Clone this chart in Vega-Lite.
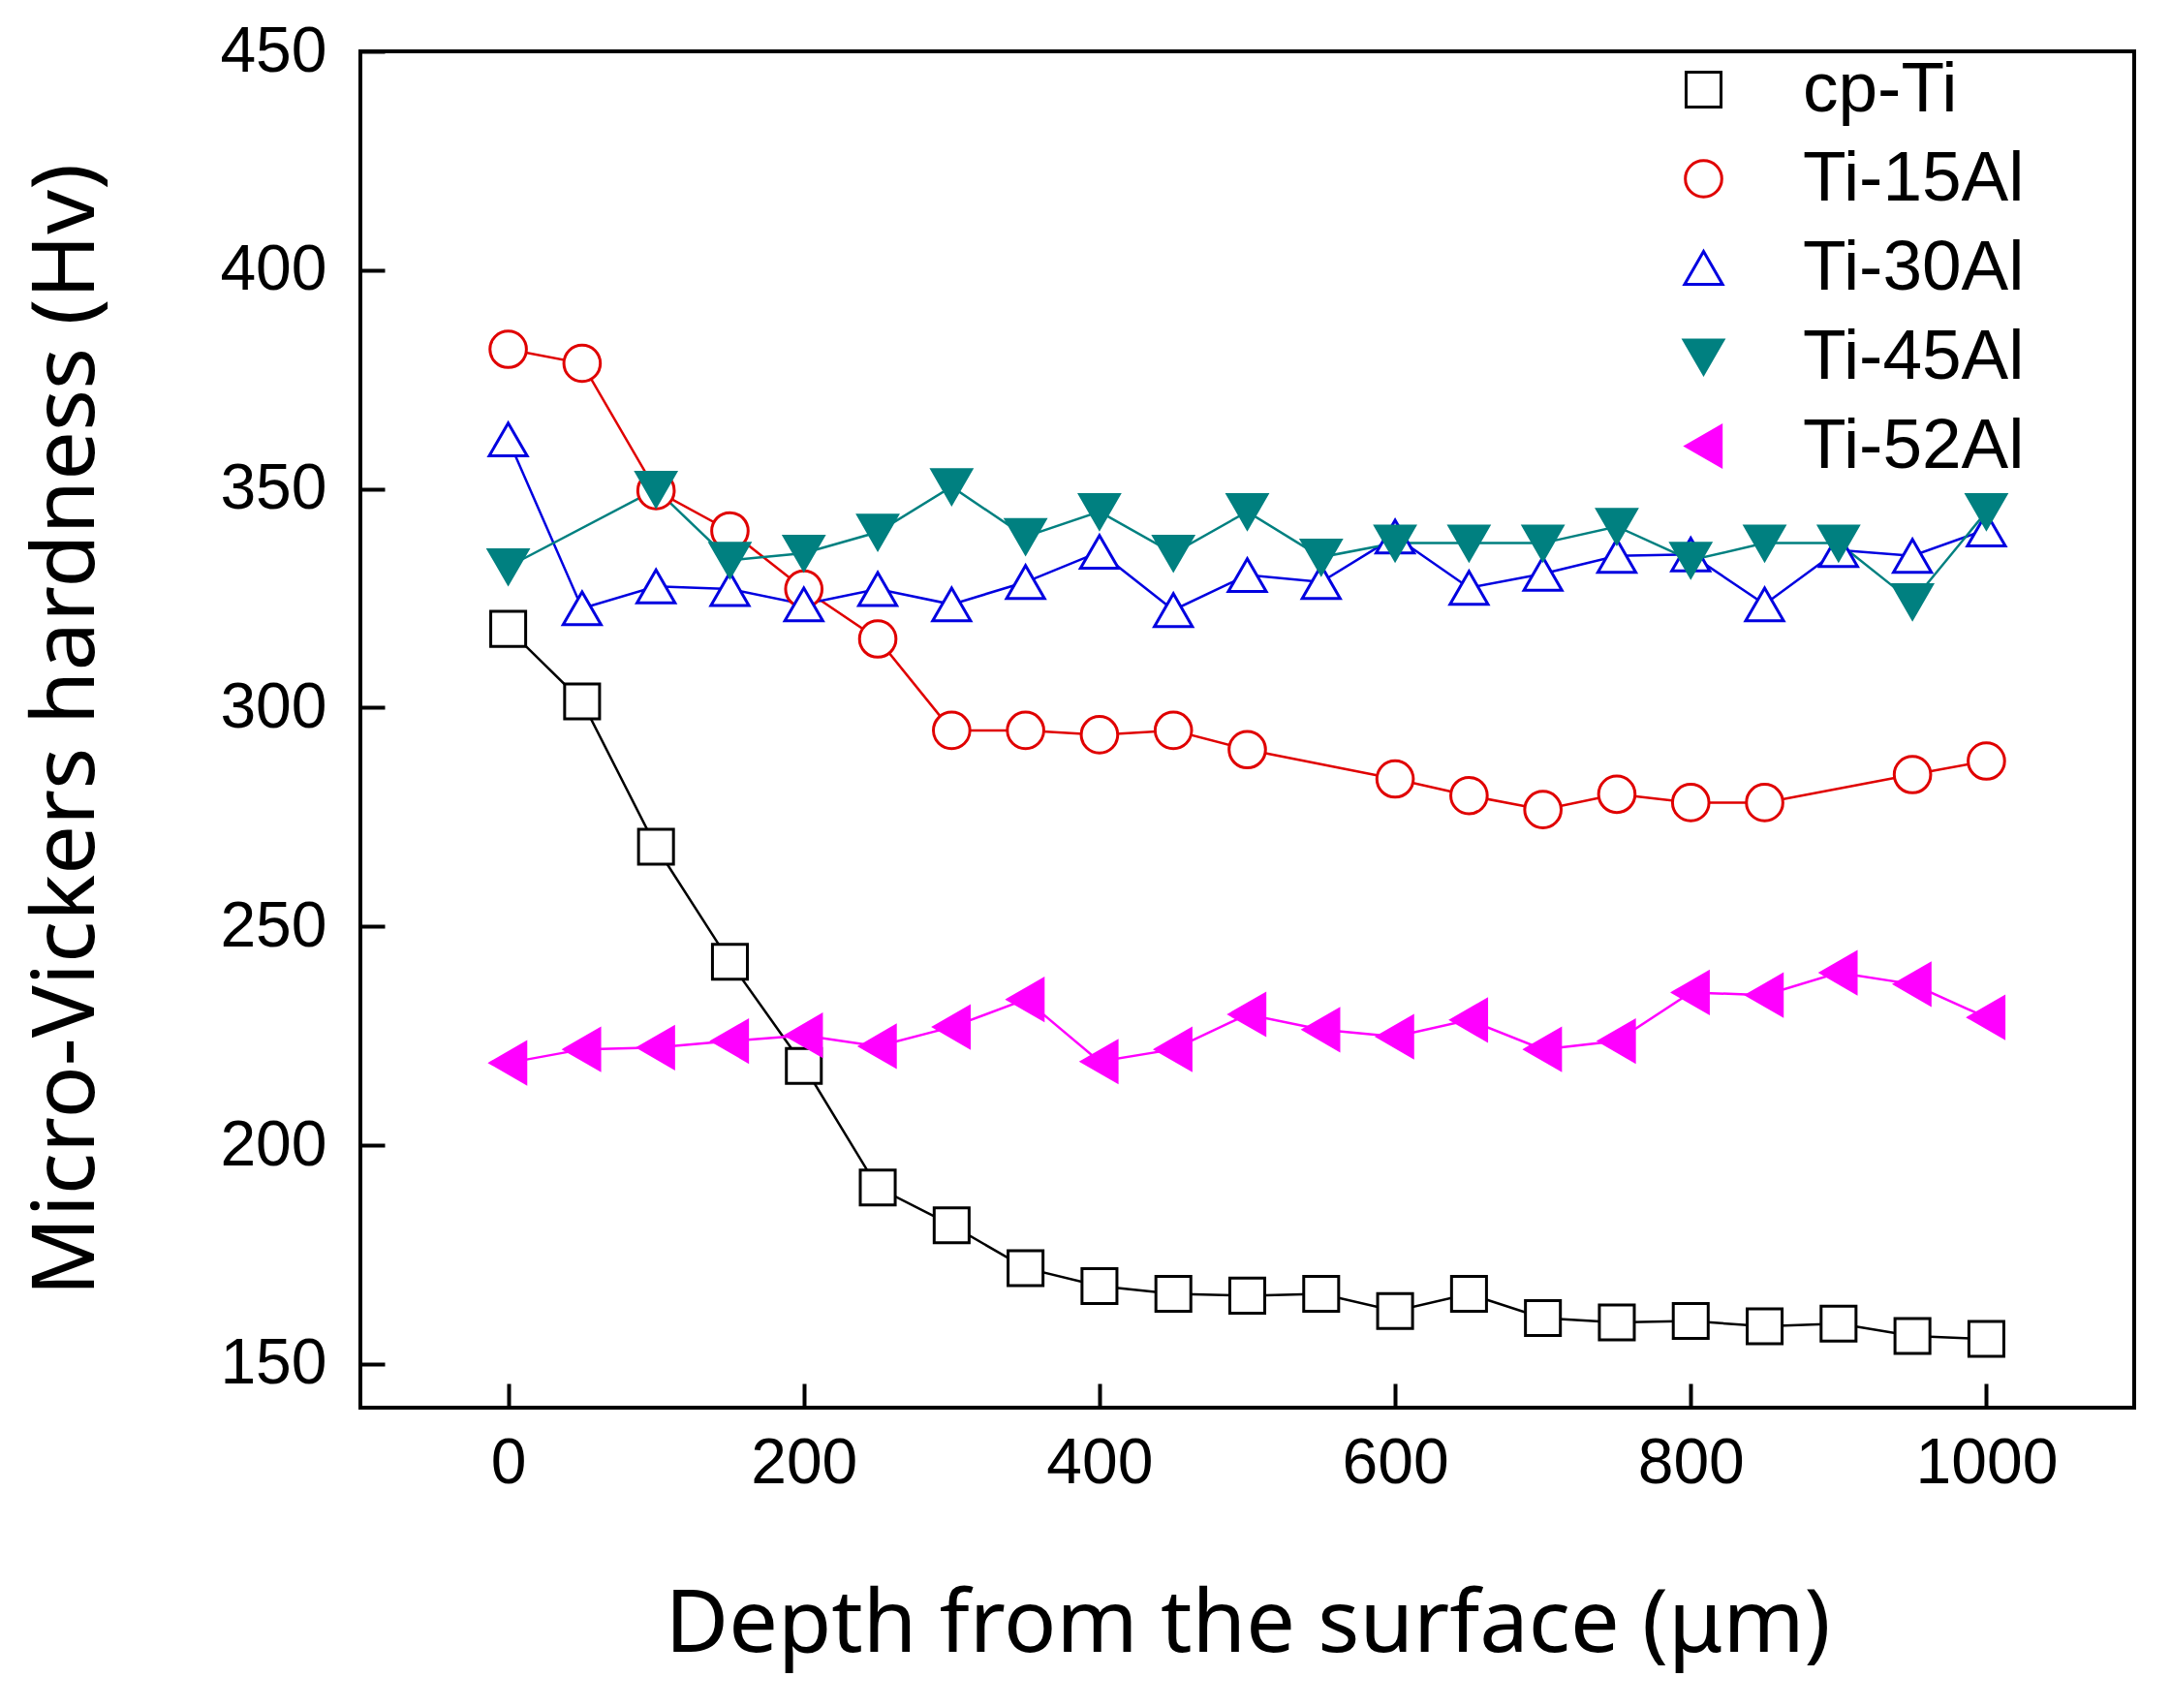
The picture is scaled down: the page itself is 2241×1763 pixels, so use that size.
{
  "$schema": "https://vega.github.io/schema/vega-lite/v6.json",
  "width": 1831,
  "height": 1400,
  "autosize": "none",
  "padding": {"left": 372, "top": 53, "right": 38, "bottom": 310},
  "background": "white",
  "data": {
    "values": [
      {"s": "cp-Ti", "d": 0, "hv": 318}, {"s": "cp-Ti", "d": 50, "hv": 301.4}, {"s": "cp-Ti", "d": 100, "hv": 268.2},
      {"s": "cp-Ti", "d": 150, "hv": 241.9}, {"s": "cp-Ti", "d": 200, "hv": 218.1}, {"s": "cp-Ti", "d": 250, "hv": 190.3},
      {"s": "cp-Ti", "d": 300, "hv": 181.7}, {"s": "cp-Ti", "d": 350, "hv": 171.9}, {"s": "cp-Ti", "d": 400, "hv": 167.8},
      {"s": "cp-Ti", "d": 450, "hv": 166}, {"s": "cp-Ti", "d": 500, "hv": 165.6}, {"s": "cp-Ti", "d": 550, "hv": 166},
      {"s": "cp-Ti", "d": 600, "hv": 162.1}, {"s": "cp-Ti", "d": 650, "hv": 166}, {"s": "cp-Ti", "d": 700, "hv": 160.5},
      {"s": "cp-Ti", "d": 750, "hv": 159.5}, {"s": "cp-Ti", "d": 800, "hv": 159.8}, {"s": "cp-Ti", "d": 850, "hv": 158.6},
      {"s": "cp-Ti", "d": 900, "hv": 159.2}, {"s": "cp-Ti", "d": 950, "hv": 156.4}, {"s": "cp-Ti", "d": 1000, "hv": 155.7},
      {"s": "Ti-15Al", "d": 0, "hv": 381.9}, {"s": "Ti-15Al", "d": 50, "hv": 378.7}, {"s": "Ti-15Al", "d": 100, "hv": 349.6},
      {"s": "Ti-15Al", "d": 150, "hv": 340.4}, {"s": "Ti-15Al", "d": 200, "hv": 327.1}, {"s": "Ti-15Al", "d": 250, "hv": 315.7},
      {"s": "Ti-15Al", "d": 300, "hv": 294.8}, {"s": "Ti-15Al", "d": 350, "hv": 294.8}, {"s": "Ti-15Al", "d": 400, "hv": 293.8},
      {"s": "Ti-15Al", "d": 450, "hv": 294.8}, {"s": "Ti-15Al", "d": 500, "hv": 290.4}, {"s": "Ti-15Al", "d": 600, "hv": 283.7},
      {"s": "Ti-15Al", "d": 650, "hv": 279.9}, {"s": "Ti-15Al", "d": 700, "hv": 276.7}, {"s": "Ti-15Al", "d": 750, "hv": 280.2},
      {"s": "Ti-15Al", "d": 800, "hv": 278.3}, {"s": "Ti-15Al", "d": 850, "hv": 278.3}, {"s": "Ti-15Al", "d": 950, "hv": 284.7},
      {"s": "Ti-15Al", "d": 1000, "hv": 287.8},
      {"s": "Ti-30Al", "d": 0, "hv": 361.3}, {"s": "Ti-30Al", "d": 50, "hv": 322.7}, {"s": "Ti-30Al", "d": 100, "hv": 327.7},
      {"s": "Ti-30Al", "d": 150, "hv": 327.1}, {"s": "Ti-30Al", "d": 200, "hv": 323.6}, {"s": "Ti-30Al", "d": 250, "hv": 327.1},
      {"s": "Ti-30Al", "d": 300, "hv": 323.6}, {"s": "Ti-30Al", "d": 350, "hv": 328.7}, {"s": "Ti-30Al", "d": 400, "hv": 335.6},
      {"s": "Ti-30Al", "d": 450, "hv": 322.3}, {"s": "Ti-30Al", "d": 500, "hv": 330.3}, {"s": "Ti-30Al", "d": 550, "hv": 328.7},
      {"s": "Ti-30Al", "d": 600, "hv": 339.1}, {"s": "Ti-30Al", "d": 650, "hv": 327.4}, {"s": "Ti-30Al", "d": 700, "hv": 330.6},
      {"s": "Ti-30Al", "d": 750, "hv": 334.7}, {"s": "Ti-30Al", "d": 800, "hv": 335}, {"s": "Ti-30Al", "d": 850, "hv": 323.6},
      {"s": "Ti-30Al", "d": 900, "hv": 336}, {"s": "Ti-30Al", "d": 950, "hv": 334.7}, {"s": "Ti-30Al", "d": 1000, "hv": 340.7},
      {"s": "Ti-45Al", "d": 0, "hv": 332.2}, {"s": "Ti-45Al", "d": 100, "hv": 349.9}, {"s": "Ti-45Al", "d": 150, "hv": 333.7},
      {"s": "Ti-45Al", "d": 200, "hv": 335.3}, {"s": "Ti-45Al", "d": 250, "hv": 340.1}, {"s": "Ti-45Al", "d": 300, "hv": 350.5},
      {"s": "Ti-45Al", "d": 350, "hv": 339.1}, {"s": "Ti-45Al", "d": 400, "hv": 344.8}, {"s": "Ti-45Al", "d": 450, "hv": 335.3},
      {"s": "Ti-45Al", "d": 500, "hv": 344.8}, {"s": "Ti-45Al", "d": 550, "hv": 334.4}, {"s": "Ti-45Al", "d": 600, "hv": 337.6},
      {"s": "Ti-45Al", "d": 650, "hv": 337.6}, {"s": "Ti-45Al", "d": 700, "hv": 337.6}, {"s": "Ti-45Al", "d": 750, "hv": 341.4},
      {"s": "Ti-45Al", "d": 800, "hv": 333.7}, {"s": "Ti-45Al", "d": 850, "hv": 337.6}, {"s": "Ti-45Al", "d": 900, "hv": 337.6},
      {"s": "Ti-45Al", "d": 950, "hv": 324.2}, {"s": "Ti-45Al", "d": 1000, "hv": 344.8},
      {"s": "Ti-52Al", "d": 0, "hv": 218.8}, {"s": "Ti-52Al", "d": 50, "hv": 221.9}, {"s": "Ti-52Al", "d": 100, "hv": 222.3},
      {"s": "Ti-52Al", "d": 150, "hv": 223.8}, {"s": "Ti-52Al", "d": 200, "hv": 225.1}, {"s": "Ti-52Al", "d": 250, "hv": 222.6},
      {"s": "Ti-52Al", "d": 300, "hv": 227}, {"s": "Ti-52Al", "d": 350, "hv": 233.3}, {"s": "Ti-52Al", "d": 400, "hv": 219.1},
      {"s": "Ti-52Al", "d": 450, "hv": 221.9}, {"s": "Ti-52Al", "d": 500, "hv": 229.9}, {"s": "Ti-52Al", "d": 550, "hv": 226.4},
      {"s": "Ti-52Al", "d": 600, "hv": 224.8}, {"s": "Ti-52Al", "d": 650, "hv": 228.6}, {"s": "Ti-52Al", "d": 700, "hv": 221.9},
      {"s": "Ti-52Al", "d": 750, "hv": 223.8}, {"s": "Ti-52Al", "d": 800, "hv": 234.9}, {"s": "Ti-52Al", "d": 850, "hv": 234.3},
      {"s": "Ti-52Al", "d": 900, "hv": 239.4}, {"s": "Ti-52Al", "d": 950, "hv": 236.8}, {"s": "Ti-52Al", "d": 1000, "hv": 229.2}
    ]
  },
  "encoding": {
    "x": {
      "field": "d", "type": "quantitative",
      "scale": {"domain": [-100, 1100], "nice": false, "zero": false},
      "axis": {"title": "Depth from the surface (μm)", "values": [0, 200, 400, 600, 800, 1000], "format": "d", "labelPadding": 50, "titlePadding": 90}
    },
    "y": {
      "field": "hv", "type": "quantitative",
      "scale": {"domain": [140, 450], "nice": false, "zero": false},
      "axis": {"title": "Micro-Vickers hardness (Hv)", "values": [150, 200, 250, 300, 350, 400, 450], "format": "d", "labelPadding": 60, "titlePadding": 111}
    }
  },
  "layer": [
    {
      "mark": {"type": "line", "strokeWidth": 2.5},
      "encoding": {
        "detail": {"field": "s"},
        "stroke": {
          "field": "s", "type": "nominal",
          "scale": {"domain": ["cp-Ti", "Ti-15Al", "Ti-30Al", "Ti-45Al", "Ti-52Al"], "range": ["#000000", "#E00000", "#0000E0", "#008080", "#FF00FF"]},
          "legend": {
            "title": null,
            "orient": "none",
            "legendX": 1350,
            "legendY": 3,
            "symbolSize": 2000,
            "symbolStrokeWidth": 3,
            "symbolOpacity": 1,
            "labelFont": "Liberation Sans",
            "labelFontSize": 73,
            "labelColor": "black",
            "labelOffset": 66,
            "labelLimit": 600,
            "rowPadding": 18
          }
        }
      }
    },
    {
      "mark": {"type": "point", "filled": false, "opacity": 1, "strokeWidth": 3, "fillOpacity": 1},
      "encoding": {
        "stroke": {"field": "s", "type": "nominal"},
        "fill": {
          "field": "s", "type": "nominal",
          "scale": {"domain": ["cp-Ti", "Ti-15Al", "Ti-30Al", "Ti-45Al", "Ti-52Al"], "range": ["#FFFFFF", "#FFFFFF", "#FFFFFF", "#008080", "#FF00FF"]},
          "legend": null
        },
        "shape": {
          "field": "s", "type": "nominal",
          "scale": {"domain": ["cp-Ti", "Ti-15Al", "Ti-30Al", "Ti-45Al", "Ti-52Al"], "range": ["square", "circle", "triangle-up", "triangle-down", "triangle-left"]},
          "legend": null
        },
        "size": {
          "field": "s", "type": "ordinal",
          "scale": {"domain": ["cp-Ti", "Ti-15Al", "Ti-30Al", "Ti-45Al", "Ti-52Al"], "range": [1300, 1764, 2400, 2600, 2300]},
          "legend": null
        }
      }
    }
  ],
  "config": {
    "view": {"stroke": "black", "strokeWidth": 4},
    "axis": {
      "grid": false,
      "domain": false,
      "tickSize": -25,
      "tickWidth": 4,
      "tickColor": "black",
      "labelFont": "Liberation Sans",
      "labelFontSize": 66,
      "labelColor": "black",
      "labelOverlap": false,
      "labelFlush": false,
      "titleFont": "Noto Sans",
      "titleFontSize": 90,
      "titleFontWeight": "normal",
      "titleColor": "black"
    }
  }
}
